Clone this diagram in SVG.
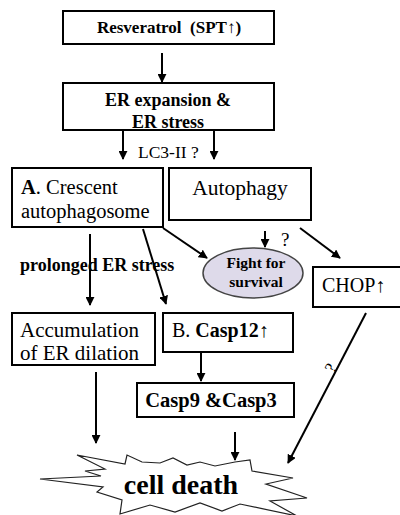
<svg xmlns="http://www.w3.org/2000/svg" width="400" height="515" viewBox="0 0 400 515" font-family="Liberation Serif, Times New Roman, serif">
<defs>
<marker id="ah" viewBox="0 0 10 10" refX="9" refY="5" markerWidth="4.5" markerHeight="4.5" markerUnits="strokeWidth" orient="auto">
<path d="M0,0 L10,5 L0,10 z" fill="#000"/>
</marker>
<style>
.box{fill:#fff;stroke:#000;stroke-width:2}
.b{font-weight:bold}
.ln{stroke:#000;stroke-width:2;fill:none;marker-end:url(#ah)}
</style>
</defs>
<rect width="400" height="515" fill="#fff"/>
<g id="n-resveratrol">
<rect class="box" x="63" y="11" width="211" height="33"/>
<text class="b" x="169" y="33" font-size="17" text-anchor="middle" xml:space="preserve">Resveratrol  (SPT↑)</text>
</g>
<g id="n-er">
<rect class="box" x="63" y="83" width="211" height="47"/>
<text class="b" x="168" y="106" font-size="18" text-anchor="middle">ER expansion &amp;</text>
<text class="b" x="168" y="128" font-size="18" text-anchor="middle">ER stress</text>
</g>
<g id="n-crescent">
<rect class="box" x="12" y="168" width="151" height="59"/>
<text x="21" y="194" font-size="20.5"><tspan font-weight="bold">A</tspan>. Crescent</text>
<text x="21" y="218" font-size="20.5">autophagosome</text>
</g>
<g id="n-autophagy">
<rect class="box" x="169" y="168" width="142" height="52"/>
<text x="240" y="195" font-size="21.5" text-anchor="middle">Autophagy</text>
</g>
<g id="n-fight">
<ellipse cx="253" cy="273" rx="50" ry="25" fill="#dedaea" stroke="#444" stroke-width="1.5"/>
<text class="b" x="256" y="268" font-size="15.5" text-anchor="middle">Fight for</text>
<text class="b" x="256" y="287" font-size="15.5" text-anchor="middle">survival</text>
</g>
<g id="n-chop">
<rect class="box" x="313" y="267" width="90" height="40"/>
<text x="322" y="292" font-size="20">CHOP↑</text>
</g>
<g id="n-accum">
<rect class="box" x="12" y="313" width="143" height="52"/>
<text x="20" y="337" font-size="21">Accumulation</text>
<text x="20" y="360" font-size="21">of ER dilation</text>
</g>
<g id="n-casp12">
<rect class="box" x="163" y="313" width="130" height="39"/>
<text x="172" y="337" font-size="20">B. <tspan font-weight="bold">Casp12↑</tspan></text>
</g>
<g id="n-casp9">
<rect class="box" x="137" y="383" width="157" height="34"/>
<text class="b" x="211" y="407" font-size="20.5" text-anchor="middle">Casp9 &amp;Casp3</text>
</g>
<g id="n-death">
<polygon points="77,455 125,464 127,455 142,462 160,463 173,458 187,465 200,462 215,466 235,462 250,460 252,471 293,478 266,484 307,498 270,501 297,516 240,504 222,511 200,503 175,512 150,505 120,514 122,500 97,492 103,487 40,479 101,476 85,471 105,469" fill="#fff" stroke="#222" stroke-width="1.2"/>
<text class="b" x="181" y="494" font-size="28" text-anchor="middle">cell death</text>
</g>
<g id="labels">
<text x="138" y="158" font-size="17.5">LC3-II ?</text>
<text x="281" y="246" font-size="19">?</text>
<text class="b" x="20" y="271" font-size="18">prolonged ER stress</text>
<text x="0" y="0" font-size="17" transform="translate(334,374) rotate(-62)">?</text>
</g>
<g id="connectors">
<line class="ln" x1="162" y1="53" x2="162" y2="82"/>
<line class="ln" x1="123" y1="130" x2="123" y2="159"/>
<line class="ln" x1="214" y1="130" x2="214" y2="159"/>
<line class="ln" x1="90" y1="234" x2="90" y2="305"/>
<line class="ln" x1="143" y1="229" x2="166" y2="304"/>
<line class="ln" x1="163" y1="228" x2="207" y2="258"/>
<line class="ln" x1="265" y1="231" x2="265" y2="247"/>
<line class="ln" x1="300" y1="228" x2="340" y2="258"/>
<line class="ln" x1="201" y1="352" x2="201" y2="381"/>
<line class="ln" x1="96" y1="372" x2="96" y2="443"/>
<line class="ln" x1="235" y1="432" x2="235" y2="460"/>
<line class="ln" x1="366" y1="313" x2="288" y2="463"/>
</g>
</svg>
